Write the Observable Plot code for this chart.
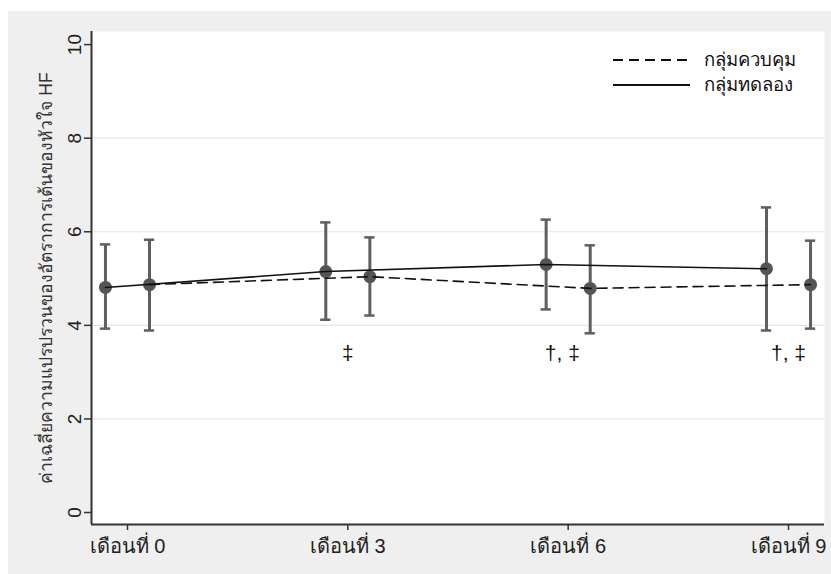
<!DOCTYPE html>
<html>
<head>
<meta charset="utf-8">
<script src="https://cdn.jsdelivr.net/npm/d3@7"></script>
<script src="https://cdn.jsdelivr.net/npm/@observablehq/plot@0.6"></script>
<style>
  html, body { margin: 0; padding: 0; background: #ffffff; }
  #wrap { position: absolute; left: 8px; top: 11px; width: 823px; height: 563px; background: #efefef; }
  #legend { position: absolute; left: 613px; top: 47px; font-family: "Liberation Sans", Arial, sans-serif; font-size: 18.5px; color: #111; }
  #legend .row { display: flex; align-items: center; height: 25px; }
  #legend svg { margin-right: 14px; }
</style>
</head>
<body>
<div id="wrap"></div>
<div id="legend"></div>
<script>
// ---- data ----
const months = [0, 3, 6, 9];
const monthLabels = ["เดือนที่ 0", "เดือนที่ 3", "เดือนที่ 6", "เดือนที่ 9"];

const expMean = [4.81, 5.15, 5.30, 5.21];
const expLow  = [3.93, 4.12, 4.34, 3.89];
const expHigh = [5.73, 6.20, 6.26, 6.52];

const ctrlMean = [4.87, 5.04, 4.79, 4.87];
const ctrlLow  = [3.89, 4.21, 3.83, 3.93];
const ctrlHigh = [5.83, 5.88, 5.71, 5.81];

const annotMonths = [3, 5.92, 9];
const annotText = ["‡", "†, ‡", "†, ‡"];
const annotValue = [3.4, 3.4, 3.4];

const yTicks = [0, 2, 4, 6, 8, 10];
const gridTicks = [2, 4, 6, 8];

const seriesNames = ["กลุ่มควบคุม", "กลุ่มทดลอง"];
const yLabel = "ค่าเฉลี่ยความแปรปรวนของอัตราการเต้นของหัวใจ HF";

// ---- build ----
const shift = 0.3;
const capHalf = 0.07;
const exp = months.map((m, i) => ({x: m - shift, y: expMean[i], lo: expLow[i], hi: expHigh[i]}));
const ctrl = months.map((m, i) => ({x: m + shift, y: ctrlMean[i], lo: ctrlLow[i], hi: ctrlHigh[i]}));
const both = exp.concat(ctrl);
const annot = annotMonths.map((m, i) => ({x: m, y: annotValue[i], t: annotText[i]}));

const xDomain = [-0.49, 9.49];
const yDomain = [-0.256, 10.28];
const font = "'Liberation Sans', Arial, sans-serif";
const barColor = "#5f5f5f";

const chart = Plot.plot({
  width: 823,
  height: 563,
  marginLeft: 83,
  marginRight: 7,
  marginTop: 20,
  marginBottom: 50,
  style: {background: "transparent", fontFamily: font, color: "#222"},
  x: {domain: xDomain},
  y: {domain: yDomain},
  marks: [
    Plot.frame({fill: "white", stroke: null}),
    Plot.gridY(gridTicks, {stroke: "#e4e4e4", strokeOpacity: 1, strokeWidth: 1.2}),
    Plot.ruleX(both, {x: "x", y1: "lo", y2: "hi", stroke: barColor, strokeWidth: 3}),
    Plot.ruleY(both, {y: "lo", x1: d => d.x - capHalf, x2: d => d.x + capHalf, stroke: barColor, strokeWidth: 2.5}),
    Plot.ruleY(both, {y: "hi", x1: d => d.x - capHalf, x2: d => d.x + capHalf, stroke: barColor, strokeWidth: 2.5}),
    Plot.dot(both, {x: "x", y: "y", r: 6.5, fill: "#555555", stroke: "none"}),
    Plot.line(ctrl, {x: "x", y: "y", stroke: "#111", strokeWidth: 1.6, strokeDasharray: "10,6"}),
    Plot.line(exp, {x: "x", y: "y", stroke: "#111", strokeWidth: 1.6}),
    Plot.text(annot, {x: "x", y: "y", text: "t", fontSize: 21, fill: "#111"}),
    Plot.ruleX([xDomain[0]], {stroke: "#333", strokeWidth: 2}),
    Plot.ruleY([yDomain[0]], {stroke: "#333", strokeWidth: 2}),
    Plot.axisY({ticks: yTicks, tickSize: 7, tickRotate: -90, fontSize: 19, stroke: "#333", strokeWidth: 1.5,
      label: null, tickPadding: 4}),
    Plot.axisY({ticks: [], tickSize: 0, fontSize: 17.5, fill: "#333",
      label: yLabel, labelAnchor: "center", labelArrow: "none", labelOffset: 52}),
    Plot.axisX({ticks: months, tickFormat: (d) => monthLabels[months.indexOf(d)], tickSize: 6, fontSize: 20,
      stroke: "#333", strokeWidth: 1.5, tickPadding: 8, label: null})
  ]
});
document.getElementById("wrap").appendChild(chart);

// ---- legend ----
const leg = document.getElementById("legend");
seriesNames.forEach((name, i) => {
  const row = document.createElement("div");
  row.className = "row";
  const dash = i === 0 ? "10,6" : "none";
  row.innerHTML = `<svg width="77" height="6"><line x1="0" x2="77" y1="3" y2="3" stroke="#111" stroke-width="1.8" stroke-dasharray="${dash}"/></svg><span>${name}</span>`;
  leg.appendChild(row);
});
</script>
</body>
</html>
